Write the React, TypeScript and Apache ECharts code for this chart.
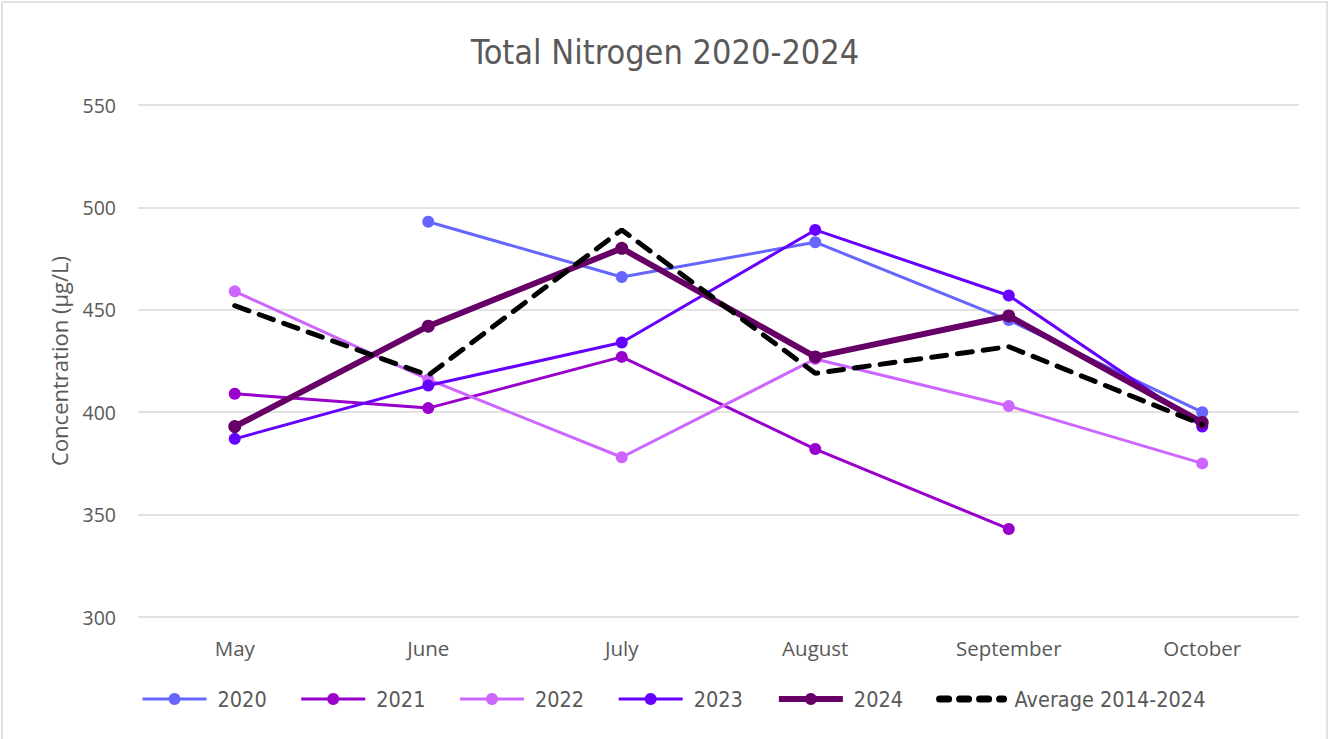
import React, { useEffect, useRef } from "react";
import * as echarts from "echarts";

const months = ["May", "June", "July", "August", "September", "October"];
const s2020 = [null, 493, 466, 483, 445, 400];
const s2021 = [409, 402, 427, 382, 343, null];
const s2022 = [459, 416, 378, 426, 403, 375];
const s2023 = [387, 413, 434, 489, 457, 393];
const s2024 = [393, 442, 480, 427, 447, 395];
const avg = [452, 418, 489, 419, 432, 394];

const NARROW = "'DejaVu Sans Condensed', 'Liberation Sans Narrow', sans-serif";
const SANS = "'Open Sans', 'Noto Sans', sans-serif";
const GRAY = "#595959";

export default function App() {
  const ref = useRef<HTMLDivElement>(null);
  useEffect(() => {
    const chart = echarts.init(ref.current!, undefined, { renderer: "svg" });
    const mk = (name: string, data: any[], color: string, width: number, z: number) => ({
      name,
      type: "line",
      data,
      symbol: "circle",
      symbolSize: width > 4 ? 13 : 12,
      z,
      itemStyle: { color },
      lineStyle: { color, width },
      emphasis: { disabled: true },
    });
    chart.setOption({
      animation: false,
      backgroundColor: "#ffffff",
      title: {
        text: "Total Nitrogen 2020-2024",
        left: "center",
        top: 30,
        textStyle: { fontFamily: NARROW, fontSize: 34, fontWeight: "normal", color: GRAY },
      },
      grid: { left: 138, right: 31, top: 105, bottom: 122 },
      xAxis: {
        type: "category",
        data: months,
        boundaryGap: true,
        axisLine: { show: false },
        axisTick: { show: false },
        axisLabel: { fontFamily: SANS, fontSize: 20.5, color: GRAY, margin: 20 },
      },
      yAxis: {
        type: "value",
        min: 300,
        max: 550,
        interval: 50,
        name: "Concentration (µg/L)",
        nameLocation: "middle",
        nameGap: 68,
        nameTextStyle: { fontFamily: SANS, fontSize: 22, color: GRAY },
        axisLine: { show: false },
        axisTick: { show: false },
        axisLabel: { fontFamily: SANS, fontSize: 19.5, color: GRAY, margin: 22 },
        splitLine: { lineStyle: { color: "#d9d9d9", width: 1.5 } },
      },
      legend: {
        bottom: 24,
        left: 136,
        itemWidth: 64,
        itemHeight: 15,
        itemGap: 33,
        textStyle: { fontFamily: NARROW, fontSize: 21.5, color: GRAY, padding: [0, 0, 0, 6] },
        data: [
          { name: "2020", lineStyle: { width: 3 } },
          { name: "2021", lineStyle: { width: 3 } },
          { name: "2022", lineStyle: { width: 3 } },
          { name: "2023", lineStyle: { width: 3 } },
          { name: "2024", lineStyle: { width: 6 } },
          {
            name: "Average 2014-2024",
            itemStyle: { opacity: 0 },
            lineStyle: { width: 7, type: [9, 11], cap: "round" },
          },
        ],
      },
      graphic: [
        {
          type: "rect",
          shape: { x: 2, y: 2, width: 1325, height: 760 },
          style: { fill: "none", stroke: "#d9d9d9", lineWidth: 1.5 },
          silent: true,
        },
      ],
      series: [
        mk("2020", s2020, "#6666FF", 3, 2),
        mk("2021", s2021, "#9900CC", 3, 2),
        mk("2022", s2022, "#CC66FF", 3, 2),
        mk("2023", s2023, "#6600FF", 3, 3),
        mk("2024", s2024, "#660066", 6, 4),
        {
          name: "Average 2014-2024",
          type: "line",
          data: avg,
          symbol: "none",
          z: 5,
          itemStyle: { color: "#000000" },
          lineStyle: { color: "#000000", width: 5, type: [15, 11], cap: "round" },
          emphasis: { disabled: true },
        },
      ],
    });
    return () => chart.dispose();
  }, []);
  return (
    <div
      ref={ref}
      style={{ position: "absolute", left: 0, top: 0, width: 1330, height: 739 }}
    />
  );
}
